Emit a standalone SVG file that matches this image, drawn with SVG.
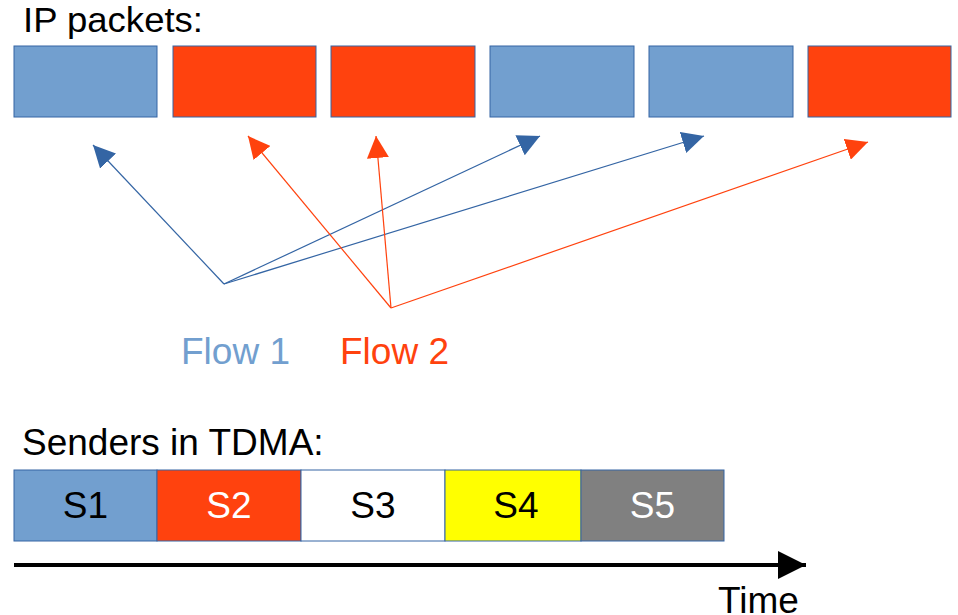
<svg xmlns="http://www.w3.org/2000/svg" width="958" height="615" viewBox="0 0 958 615">
  <style>
    text { font-family: "Liberation Sans", Arial, sans-serif; font-size: 37px; }
    .blue { fill: #729fcf; stroke: #3465a4; stroke-width: 1; }
    .red { fill: #ff420e; stroke: #3465a4; stroke-width: 1; }
    .f1 { stroke: #3465a4; stroke-width: 1.2; fill: none; marker-end: url(#ahBlue); }
    .f2 { stroke: #ff420e; stroke-width: 1.2; fill: none; marker-end: url(#ahRed); }
  </style>
  <defs>
    <marker id="ahBlue" viewBox="0 0 10 10" refX="10" refY="5" markerUnits="userSpaceOnUse" markerWidth="22" markerHeight="22" orient="auto">
      <path d="M0,0 L10,5 L0,10 z" fill="#3465a4"/>
    </marker>
    <marker id="ahRed" viewBox="0 0 10 10" refX="10" refY="5" markerUnits="userSpaceOnUse" markerWidth="22" markerHeight="22" orient="auto">
      <path d="M0,0 L10,5 L0,10 z" fill="#ff420e"/>
    </marker>
    <marker id="ahBlack" viewBox="0 0 10 10" refX="10" refY="5" markerUnits="userSpaceOnUse" markerWidth="28" markerHeight="28" orient="auto">
      <path d="M0,0 L10,5 L0,10 z" fill="#000"/>
    </marker>
  </defs>

  <text x="23" y="32" style="font-size:35px" textLength="180" lengthAdjust="spacingAndGlyphs">IP packets:</text>

  <!-- packet row -->
  <g id="pkt1"><rect class="blue" x="14" y="46" width="143" height="71"/></g>
  <g id="pkt2"><rect class="red" x="173" y="46" width="143" height="71"/></g>
  <g id="pkt3"><rect class="red" x="331" y="46" width="144" height="71"/></g>
  <g id="pkt4"><rect class="blue" x="490" y="46" width="144" height="71"/></g>
  <g id="pkt5"><rect class="blue" x="649" y="46" width="144" height="71"/></g>
  <g id="pkt6"><rect class="red" x="808" y="46" width="143" height="71"/></g>

  <!-- flow arrows and time axis -->
  <g id="connectors">
    <line class="f1" x1="224" y1="284" x2="93" y2="145"/>
    <line class="f1" x1="224" y1="284" x2="540" y2="136"/>
    <line class="f1" x1="224" y1="284" x2="704" y2="136"/>
    <line class="f2" x1="391" y1="308" x2="248" y2="136"/>
    <line class="f2" x1="391" y1="308" x2="376" y2="136"/>
    <line class="f2" x1="391" y1="308" x2="868" y2="142"/>
    <line x1="14" y1="565" x2="806" y2="565" stroke="#000" stroke-width="4" marker-end="url(#ahBlack)"/>
  </g>

  <text x="181" y="364" fill="#729fcf">Flow 1</text>
  <text x="340" y="364" fill="#ff420e">Flow 2</text>

  <text x="22" y="455">Senders in TDMA:</text>

  <!-- TDMA slots -->
  <g id="s1"><rect x="14" y="470" width="143" height="71" fill="#729fcf" stroke="#3465a4"/><text x="85.5" y="518" text-anchor="middle" fill="#000">S1</text></g>
  <g id="s2"><rect x="157" y="470" width="144" height="71" fill="#ff420e" stroke="#3465a4"/><text x="229" y="518" text-anchor="middle" fill="#fff">S2</text></g>
  <g id="s3"><rect x="301" y="470" width="144" height="71" fill="#fff" stroke="#3465a4"/><text x="373" y="518" text-anchor="middle" fill="#000">S3</text></g>
  <g id="s4"><rect x="445" y="470" width="136" height="71" fill="#ffff00" stroke="#3465a4"/><text x="516" y="518" text-anchor="middle" fill="#000">S4</text></g>
  <g id="s5"><rect x="581" y="470" width="143" height="71" fill="#808080" stroke="#3465a4"/><text x="652.5" y="518" text-anchor="middle" fill="#fff">S5</text></g>

  <text x="718" y="613">Time</text>
</svg>
